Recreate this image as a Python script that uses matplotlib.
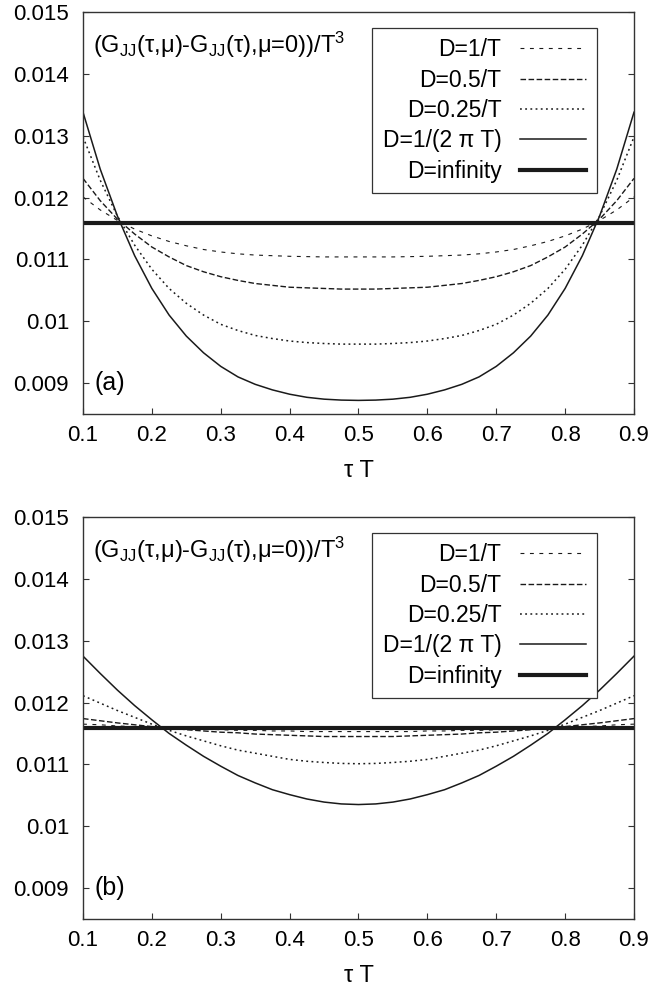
import matplotlib
matplotlib.use("Agg")
import matplotlib.pyplot as plt
from matplotlib.ticker import FuncFormatter, MultipleLocator

plt.rcParams['font.family'] = ['Liberation Sans', 'DejaVu Sans']
plt.rcParams['mathtext.fontset'] = 'custom'
plt.rcParams['mathtext.rm'] = 'Liberation Sans'
plt.rcParams['mathtext.it'] = 'Liberation Sans:italic'
plt.rcParams['font.size'] = 16

# tau*T grid
tau = [0.1, 0.125, 0.15, 0.175, 0.2, 0.225, 0.25, 0.275, 0.3, 0.325, 0.35, 0.375, 0.4,
       0.425, 0.45, 0.475, 0.5, 0.525, 0.55, 0.575, 0.6, 0.625, 0.65, 0.675, 0.7,
       0.725, 0.75, 0.775, 0.8, 0.825, 0.85, 0.875, 0.9]

# panel (a)
a_d1 = [0.01201, 0.01180, 0.01163, 0.01149, 0.01138, 0.01129, 0.01122, 0.01116, 0.01112,
        0.01109, 0.01107, 0.01106, 0.01105, 0.011045, 0.01104, 0.01104, 0.01104,
        0.01104, 0.01104, 0.011045, 0.01105, 0.01106, 0.01107, 0.01109, 0.01112,
        0.01116, 0.01122, 0.01129, 0.01138, 0.01149, 0.01163, 0.01180, 0.01201]
a_d05 = [0.01231, 0.01195, 0.01165, 0.01141, 0.01120, 0.01104, 0.01090, 0.01080, 0.01072,
         0.01066, 0.01061, 0.01058, 0.01055, 0.01054, 0.01053, 0.01052, 0.01052,
         0.01052, 0.01053, 0.01054, 0.01055, 0.01058, 0.01061, 0.01066, 0.01072,
         0.01080, 0.01090, 0.01104, 0.01120, 0.01141, 0.01165, 0.01195, 0.01231]
a_d025 = [0.01298, 0.01228, 0.01170, 0.01123, 0.01084, 0.01053, 0.01029, 0.01010, 0.00995,
          0.00985, 0.00977, 0.00972, 0.00968, 0.009655, 0.00964, 0.00963, 0.00963,
          0.00963, 0.00964, 0.009655, 0.00968, 0.00972, 0.00977, 0.00985, 0.00995,
          0.01010, 0.01029, 0.01053, 0.01084, 0.01123, 0.01170, 0.01228, 0.01298]
a_d2pi = [0.01338, 0.01246, 0.01170, 0.01106, 0.01053, 0.01010, 0.00976, 0.00949, 0.00927,
          0.00910, 0.00898, 0.00889, 0.00882, 0.00877, 0.00874, 0.008725, 0.00872,
          0.008725, 0.00874, 0.00877, 0.00882, 0.00889, 0.00898, 0.00910, 0.00927,
          0.00949, 0.00976, 0.01010, 0.01053, 0.01106, 0.01170, 0.01246, 0.01338]
a_inf = [0.011586] * len(tau)

# panel (b)
b_d1 = [0.01165, 0.01164, 0.01162, 0.01161, 0.01160, 0.01159, 0.01158, 0.01157, 0.01156,
        0.01155, 0.01155, 0.01154, 0.01154, 0.01153, 0.01153, 0.01153, 0.01153,
        0.01153, 0.01153, 0.01153, 0.01154, 0.01154, 0.01155, 0.01155, 0.01156,
        0.01157, 0.01158, 0.01159, 0.01160, 0.01161, 0.01162, 0.01164, 0.01165]
b_d05 = [0.01174, 0.011705, 0.01167, 0.01164, 0.01161, 0.01159, 0.01156, 0.01154, 0.01152,
         0.01151, 0.01149, 0.01148, 0.01147, 0.01146, 0.01145, 0.01145, 0.01145,
         0.01145, 0.01145, 0.01146, 0.01147, 0.01148, 0.01149, 0.01151, 0.01152,
         0.01154, 0.01156, 0.01159, 0.01161, 0.01164, 0.01167, 0.011705, 0.01174]
b_d025 = [0.01211, 0.01199, 0.01187, 0.01176, 0.01165, 0.01155, 0.01146, 0.01138, 0.01130,
          0.01123, 0.01118, 0.01113, 0.01108, 0.01105, 0.01103, 0.011015, 0.01101,
          0.011015, 0.01103, 0.01105, 0.01108, 0.01113, 0.01118, 0.01123, 0.01130,
          0.01138, 0.01146, 0.01155, 0.01165, 0.01176, 0.01187, 0.01199, 0.01211]
b_d2pi = [0.01275, 0.01247, 0.01220, 0.01195, 0.01172, 0.01150, 0.01131, 0.01113, 0.01097,
          0.01082, 0.01070, 0.01059, 0.01051, 0.01044, 0.01039, 0.01036, 0.01035,
          0.01036, 0.01039, 0.01044, 0.01051, 0.01059, 0.01070, 0.01082, 0.01097,
          0.01113, 0.01131, 0.01150, 0.01172, 0.01195, 0.01220, 0.01247, 0.01275]
b_inf = [0.011586] * len(tau)

labels = ['D=1/T', 'D=0.5/T', 'D=0.25/T', 'D=1/(2 π T)', 'D=infinity']
styles = [dict(ls=(0, (3.5, 5)), lw=0.8),
          dict(ls=(0, (4, 1.8)), lw=1.0),
          dict(ls=(0, (1.2, 2.2)), lw=1.1),
          dict(ls='-', lw=1.1),
          dict(ls='-', lw=3.0)]

ylabel_text = r'(G$_{\rm JJ}$(τ,μ)-G$_{\rm JJ}$(τ),μ=0))/T$^3$'

fig = plt.figure(figsize=(6.53, 9.94), dpi=100)
ax_a = fig.add_axes([0.1271, 0.5835, 0.8438, 0.4044])
ax_b = fig.add_axes([0.1271, 0.0755, 0.8438, 0.4044])

panels = [(ax_a, [a_d1, a_d05, a_d025, a_d2pi, a_inf], '(a)'),
          (ax_b, [b_d1, b_d05, b_d025, b_d2pi, b_inf], '(b)')]

for ax, series, tag in panels:
    for ys, lab, st in zip(series, labels, styles):
        ax.plot(tau, ys, color='#1a1a1a', label=lab, **st)
    ax.set_xlim(0.1, 0.9)
    ax.set_ylim(0.0085, 0.015)
    ax.xaxis.set_major_locator(MultipleLocator(0.1))
    ax.yaxis.set_major_locator(MultipleLocator(0.001))
    ax.xaxis.set_major_formatter(FuncFormatter(lambda v, p: f'{v:g}'))
    ax.yaxis.set_major_formatter(FuncFormatter(lambda v, p: f'{v:g}'))
    ax.tick_params(direction='in', length=4.5, width=0.8, color='#333333',
                   top=False, right=True, labelsize=16)
    ax.tick_params(axis='x', pad=8)
    ax.tick_params(axis='y', pad=10)
    for sp in ax.spines.values():
        sp.set_linewidth(1.0)
        sp.set_color('#333333')
    ax.set_xlabel('τ T', fontsize=17, labelpad=10)
    ax.text(0.018, 0.898, ylabel_text, transform=ax.transAxes,
            fontsize=17, ha='left', va='baseline')
    ax.text(0.1174, 0.009, tag, fontsize=18, ha='left', va='center')
    leg = ax.legend(loc='upper right', bbox_to_anchor=(0.932, 0.960),
                    markerfirst=False, fontsize=16.5, handlelength=2.9,
                    handletextpad=0.8, labelspacing=0.32, borderpad=0.45,
                    borderaxespad=0.0, fancybox=False, framealpha=1.0)
    leg.get_frame().set_edgecolor('#333333')
    leg.get_frame().set_linewidth(0.9)

fig.savefig('out.png', dpi=100)
